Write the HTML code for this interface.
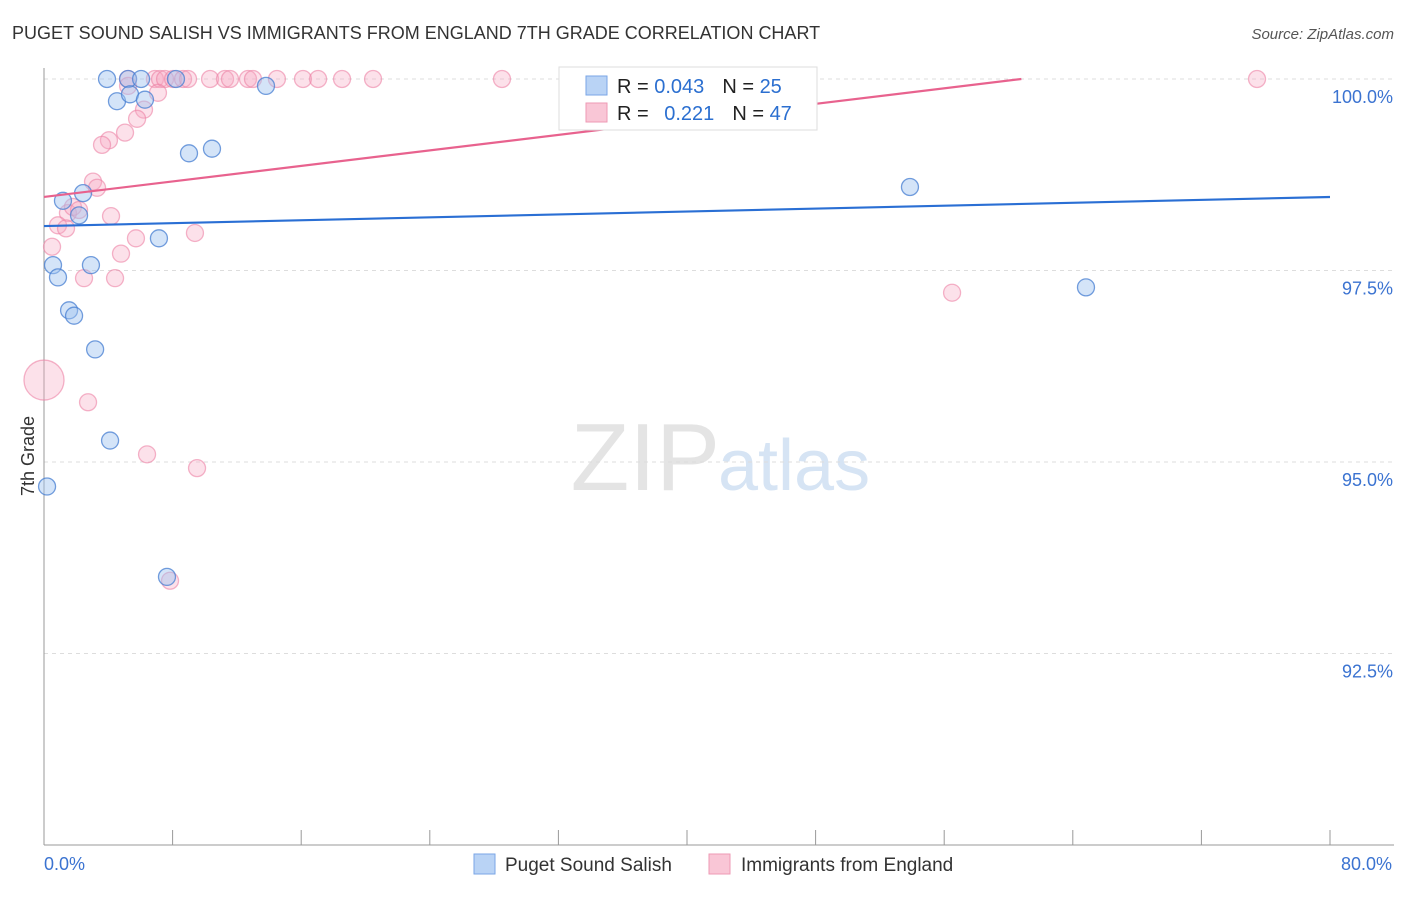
<!DOCTYPE html>
<html><head><meta charset="utf-8"><style>
body{margin:0;background:#fff;font-family:"Liberation Sans",sans-serif;}
svg text{font-family:"Liberation Sans",sans-serif;}
</style></head><body>
<svg id="chart" width="1406" height="892">
<text x="12" y="39" font-size="18" fill="#333">PUGET SOUND SALISH VS IMMIGRANTS FROM ENGLAND 7TH GRADE CORRELATION CHART</text>
<text x="1394" y="39" font-size="15" fill="#555" font-style="italic" text-anchor="end">Source: ZipAtlas.com</text>
<text x="720" y="490" font-size="96" fill="#e4e4e4" text-anchor="end" font-family="Liberation Serif">ZIP</text>
<text x="718" y="490" font-size="72" fill="#d6e4f4">atlas</text>
<g id="grid"></g><g id="axes"></g><g id="pts"></g><g id="trend"></g>
<text x="34" y="456" font-size="18" fill="#333" text-anchor="middle" transform="rotate(-90 34 456)">7th Grade</text>
<g>
<rect x="559" y="67" width="258" height="63" fill="#fff" stroke="#ddd"/>
<rect x="586" y="76" width="21" height="19" fill="#b9d3f5" stroke="#7aa6e6"/>
<rect x="586" y="103" width="21" height="19" fill="#f9c6d6" stroke="#ee9ab4"/>
<text x="617" y="93" font-size="20" fill="#222">R = <tspan fill="#2b6fd0">0.043</tspan><tspan dx="18">N = </tspan><tspan fill="#2b6fd0">25</tspan></text>
<text x="617" y="120" font-size="20" fill="#222">R = <tspan fill="#2b6fd0" dx="10">0.221</tspan><tspan dx="18">N = </tspan><tspan fill="#2b6fd0">47</tspan></text>
</g>
<g>
<rect x="474" y="854" width="21" height="20" fill="#b9d3f5" stroke="#7aa6e6"/>
<text x="505" y="871" font-size="19" fill="#333">Puget Sound Salish</text>
<rect x="709" y="854" width="21" height="20" fill="#f9c6d6" stroke="#ee9ab4"/>
<text x="741" y="871" font-size="19" fill="#333">Immigrants from England</text>
</g>
</svg>
<script>
const yTicks=[100,97.5,95,92.5];
const yTickLabels=["100.0%","97.5%","95.0%","92.5%"];
const xEnds=["0.0%","80.0%"];
const blueX=[3.92,5.23,6.04,8.21,13.81,4.54,5.35,6.28,9.02,10.45,1.18,2.43,2.18,7.15,0.56,0.87,2.92,1.56,1.87,3.18,4.11,0.19,7.65,53.87,64.82];
const blueY=[100,100,100,100,99.91,99.71,99.80,99.73,99.03,99.09,98.41,98.51,98.22,97.92,97.57,97.41,97.57,96.98,96.91,96.47,95.28,94.68,93.50,98.59,97.28];
const pinkX=[5.23,6.90,7.22,7.53,8.03,8.65,8.96,10.33,11.26,11.57,12.69,13.00,14.49,16.11,17.05,18.54,20.47,28.49,33.03,75.46,7.09,5.23,6.22,5.79,5.04,4.04,3.61,3.05,3.30,4.17,1.49,0.87,1.37,1.80,2.18,5.72,9.39,0.50,4.79,2.49,4.42,0.0,2.74,6.41,9.52,7.84,56.49];
const pinkY=[100,100,100,100,100,100,100,100,100,100,100,100,100,100,100,100,100,100,100,100,99.82,99.91,99.60,99.48,99.30,99.20,99.14,98.66,98.58,98.21,98.25,98.09,98.05,98.33,98.29,97.92,97.99,97.81,97.72,97.40,97.40,96.07,95.78,95.10,94.92,93.45,97.21];
const pinkBig=[41];
const blueTrend=[98.08,98.46];
const pinkTrend=[98.46,100.0,60.8];
const NS="http://www.w3.org/2000/svg";
const X=v=>44+v/80*1286, Y=v=>79+(100-v)/2.5*191.5;
function mk(t,a,p){const e=document.createElementNS(NS,t);for(const k in a)e.setAttribute(k,a[k]);document.getElementById(p).appendChild(e);return e;}
yTicks.forEach((t,i)=>{
 const g=mk('line',{x1:44,x2:1394,y1:Y(t),y2:Y(t),stroke:'#ddd','stroke-dasharray':'4 4'},'grid');
 
 
 const l=mk('text',{x:1393,y:Y(t)+24,'font-size':18,fill:'#3b73d1','text-anchor':'end'},'axes');l.textContent=yTickLabels[i];
 
 
});
const ax=mk('line',{x1:44,x2:44,y1:68,y2:845,stroke:'#999'},'axes');


const bx=mk('line',{x1:44,x2:1394,y1:845,y2:845,stroke:'#999'},'axes');


for(let i=0;i<=10;i++){const t=mk('line',{x1:X(i*8),x2:X(i*8),y1:830,y2:845,stroke:'#999'},'axes');
 
 }
[[0,'start',X(0)],[1,'end',1392]].forEach(([i,a,x])=>{const t=mk('text',{x:x,y:870,'font-size':18,fill:'#3b73d1','text-anchor':a},'axes');t.textContent=xEnds[i];
 
 });
pinkX.forEach((v,i)=>{const c=mk('circle',{cx:X(v),cy:Y(pinkY[i]),r:pinkBig.includes(i)?20:8.5,fill:'rgba(246,170,195,0.35)',stroke:'rgba(236,130,165,0.6)','stroke-width':1.3},'pts');
 
 });
blueX.forEach((v,i)=>{const c=mk('circle',{cx:X(v),cy:Y(blueY[i]),r:8.5,fill:'rgba(160,196,240,0.45)',stroke:'rgba(70,125,210,0.75)','stroke-width':1.3},'pts');
 
 });
const bl=mk('line',{x1:X(0),y1:Y(blueTrend[0]),x2:X(80),y2:Y(blueTrend[1]),stroke:'#2a6fd4','stroke-width':2.2},'trend');


const pl=mk('line',{x1:X(0),y1:Y(pinkTrend[0]),x2:X(pinkTrend[2]),y2:Y(pinkTrend[1]),stroke:'#e8628e','stroke-width':2.2},'trend');


</script>
</body></html>
